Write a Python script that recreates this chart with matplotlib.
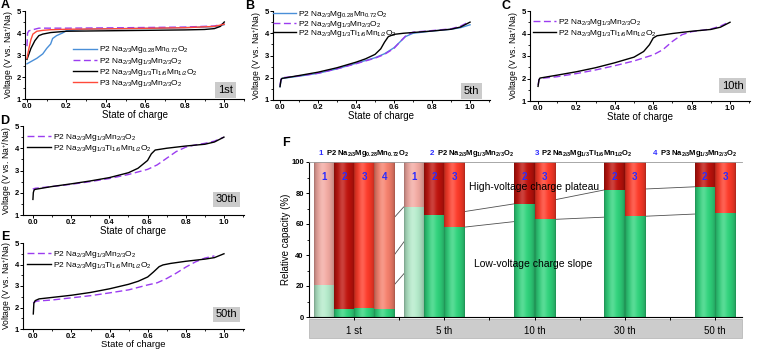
import numpy as np
import matplotlib
matplotlib.use('Agg')
import matplotlib.pyplot as plt
import matplotlib.colors as mcolors
from matplotlib.patches import Rectangle
from matplotlib.ticker import MultipleLocator

plt.rcParams['font.family'] = ['Liberation Sans', 'DejaVu Sans']
plt.rcParams['mathtext.default'] = 'regular'

W, H = 757, 350

lab_mg028 = r'P2 Na$_{2/3}$Mg$_{0.28}$Mn$_{0.72}$O$_2$'
lab_mg13 = r'P2 Na$_{2/3}$Mg$_{1/3}$Mn$_{2/3}$O$_2$'
lab_ti = r'P2 Na$_{2/3}$Mg$_{1/3}$Ti$_{1/6}$Mn$_{1/2}$O$_2$'
lab_p3 = r'P3 Na$_{2/3}$Mg$_{1/3}$Mn$_{2/3}$O$_2$'

# ---- charge curves (state of charge, voltage) ----
# 1st cycle
blue_1_x = [0, 0.02, 0.05, 0.08, 0.10, 0.12, 0.13, 0.15, 0.18, 0.2, 0.3, 0.5, 0.7, 0.9, 0.97, 1.0]
blue_1_y = [2.6, 2.7, 2.85, 3.05, 3.3, 3.5, 3.75, 3.88, 4.0, 4.1, 4.17, 4.2, 4.22, 4.27, 4.3, 4.38]
purple_1_x = [0, 0.003, 0.01, 0.03, 0.06, 0.2, 0.5, 0.8, 0.95, 1.0]
purple_1_y = [3.4, 4.0, 4.1, 4.15, 4.22, 4.22, 4.24, 4.27, 4.32, 4.42]
black_1_x = [0, 0.01, 0.02, 0.04, 0.06, 0.08, 0.12, 0.2, 0.4, 0.6, 0.8, 0.9, 0.95, 0.98, 1.0]
black_1_y = [2.8, 3.05, 3.3, 3.65, 3.88, 3.95, 4.02, 4.08, 4.1, 4.12, 4.14, 4.16, 4.2, 4.3, 4.5]
red_1_x = [0, 0.01, 0.02, 0.03, 0.05, 0.08, 0.12, 0.2, 0.5, 0.8, 0.95, 1.0]
red_1_y = [2.85, 3.3, 3.7, 3.95, 4.08, 4.12, 4.15, 4.17, 4.2, 4.24, 4.3, 4.4]

# 5th cycle
blue_5_x = [0, 0.005, 0.01, 0.1, 0.2, 0.3, 0.4, 0.5, 0.55, 0.6, 0.63, 0.66, 0.7, 0.8, 0.9, 0.95, 1.0]
blue_5_y = [1.6, 1.9, 1.97, 2.07, 2.2, 2.4, 2.65, 2.9, 3.08, 3.35, 3.6, 3.85, 4.0, 4.1, 4.18, 4.25, 4.38]
purple_5_x = [0, 0.005, 0.01, 0.1, 0.2, 0.3, 0.4, 0.5, 0.55, 0.6, 0.63, 0.66, 0.7, 0.8, 0.9, 0.95, 0.98]
purple_5_y = [1.65, 1.95, 2.0, 2.08, 2.2, 2.4, 2.63, 2.88, 3.05, 3.32, 3.6, 3.87, 4.05, 4.12, 4.2, 4.32, 4.45]
black_5_x = [0, 0.005, 0.01, 0.1, 0.2, 0.3, 0.4, 0.45, 0.5, 0.53, 0.55, 0.57, 0.6, 0.65, 0.8, 0.9, 0.95, 1.0]
black_5_y = [1.6, 1.9, 1.97, 2.1, 2.25, 2.45, 2.7, 2.85, 3.05, 3.3, 3.6, 3.85, 3.95, 4.0, 4.1, 4.18, 4.28, 4.5]

# 10th cycle
purple_10_x = [0, 0.005, 0.01, 0.1, 0.2, 0.3, 0.4, 0.5, 0.6, 0.65, 0.7, 0.75, 0.8, 0.9, 0.95, 0.98]
purple_10_y = [1.7, 1.95, 2.0, 2.08, 2.22, 2.38, 2.57, 2.78, 3.05, 3.28, 3.65, 3.95, 4.08, 4.2, 4.33, 4.45]
black_10_x = [0, 0.005, 0.01, 0.1, 0.2, 0.3, 0.4, 0.5, 0.55, 0.58, 0.6, 0.62, 0.7, 0.8, 0.9, 0.95, 1.0]
black_10_y = [1.65, 1.95, 2.02, 2.15, 2.3, 2.48, 2.7, 2.95, 3.2, 3.5, 3.8, 3.9, 4.0, 4.1, 4.18, 4.28, 4.5]

# 30th cycle
purple_30_x = [0, 0.005, 0.01, 0.1, 0.2, 0.3, 0.4, 0.5, 0.6, 0.65, 0.7, 0.75, 0.8, 0.85, 0.9, 0.95, 1.0]
purple_30_y = [2.2, 2.15, 2.2, 2.28, 2.38, 2.5, 2.64, 2.82, 3.05, 3.25, 3.55, 3.85, 4.05, 4.15, 4.22, 4.32, 4.5]
black_30_x = [0, 0.002, 0.005, 0.01, 0.1, 0.2, 0.3, 0.4, 0.5, 0.55, 0.6, 0.62, 0.64, 0.7, 0.8, 0.9, 0.95, 1.0]
black_30_y = [1.7, 2.0, 2.1, 2.15, 2.28, 2.4, 2.53, 2.68, 2.9, 3.1, 3.45, 3.75, 3.92, 4.0, 4.1, 4.18, 4.28, 4.5]

# 50th cycle
purple_50_x = [0, 0.005, 0.02, 0.1, 0.2, 0.3, 0.4, 0.5, 0.6, 0.65, 0.7, 0.75, 0.8, 0.85, 0.9, 0.95]
purple_50_y = [2.2, 2.25, 2.3, 2.35, 2.45, 2.55, 2.68, 2.82, 3.05, 3.15, 3.35, 3.6, 3.88, 4.12, 4.3, 4.4]
black_50_x = [0, 0.003, 0.01, 0.03, 0.1, 0.2, 0.3, 0.4, 0.5, 0.55, 0.6, 0.63, 0.66, 0.68, 0.72, 0.8, 0.9, 0.95, 1.0]
black_50_y = [1.7, 2.2, 2.32, 2.4, 2.47, 2.57, 2.7, 2.87, 3.08, 3.22, 3.42, 3.65, 3.9, 3.98, 4.05, 4.15, 4.25, 4.32, 4.5]

# ---- relative capacity of low-voltage slope (%) per cycle, per sample ----
cycles = ['1 st', '5 th', '10 th', '30 th', '50 th']
slope_s1 = [20.5, 71, np.nan, np.nan, np.nan]
slope_s2 = [5, 66, 73, 82, 84]
slope_s3 = [6, 58, 63, 65, 67]
slope_s4 = [5, np.nan, np.nan, np.nan, np.nan]
sample_names = [lab_mg028, lab_mg13, lab_ti, lab_p3]

c_blue = '#4a8fd8'
c_purple = '#9b3cf0'
c_red = '#ff4a3a'

fig = plt.figure(figsize=(W / 100, H / 100), dpi=100)


def px_axes(l, r, t, b):
    return fig.add_axes([l / W, 1 - b / H, (r - l) / W, (b - t) / H])


def style_volt(ax, xlim, xl_size=7, xl_pad=0):
    ax.set_xlim(*xlim)
    ax.set_ylim(1, 5)
    for s in ['top', 'right']:
        ax.spines[s].set_visible(False)
    for s in ['left', 'bottom']:
        ax.spines[s].set_linewidth(0.8)
    ax.xaxis.set_major_locator(MultipleLocator(0.2))
    ax.xaxis.set_minor_locator(MultipleLocator(0.1))
    ax.yaxis.set_major_locator(MultipleLocator(1))
    ax.yaxis.set_minor_locator(MultipleLocator(0.5))
    ax.tick_params(which='major', direction='out', length=2.2, width=0.7, pad=0.8, labelsize=5.5)
    ax.tick_params(which='minor', direction='out', length=1.3, width=0.6)
    for lab in ax.get_xticklabels() + ax.get_yticklabels():
        lab.set_fontweight('bold')
    ax.set_xlabel('State of charge', fontsize=xl_size, labelpad=xl_pad)
    ax.set_ylabel('Voltage (V vs. Na$^{+}$/Na)', fontsize=6.2, labelpad=0.5)


def tag(ax, txt, x, y):
    ax.text(x, y, txt, ha='right', va='center', fontsize=8,
            bbox=dict(boxstyle='square,pad=0.25', fc='#cbcbcb', ec='none'))


def legend(ax, handles, labels, x, y, sp):
    ax.legend(handles, labels, loc='upper left', bbox_to_anchor=(x, y), frameon=False,
              fontsize=6.0, handlelength=2.8, handletextpad=0.25, labelspacing=sp,
              borderpad=0, borderaxespad=0)


# panel A
axA = px_axes(25, 244, 11, 99)
lA1, = axA.plot(blue_1_x, blue_1_y, color=c_blue, lw=1.0)
lA2, = axA.plot(purple_1_x, purple_1_y, color=c_purple, lw=1.0, dashes=(5, 2.5))
lA3, = axA.plot(black_1_x, black_1_y, color='black', lw=1.0)
lA4, = axA.plot(red_1_x, red_1_y, color=c_red, lw=1.0)
style_volt(axA, (-0.01, 1.10))
legend(axA, [lA1, lA2, lA3, lA4], [lab_mg028, lab_mg13, lab_ti, lab_p3], 0.22, 0.62, 0.02)
tag(axA, '1st', 1.045, 1.4)

# panel B
axB = px_axes(273, 490, 11, 100)
lB1, = axB.plot(blue_5_x, blue_5_y, color=c_blue, lw=1.0)
lB2, = axB.plot(purple_5_x, purple_5_y, color=c_purple, lw=1.0, dashes=(5, 2.5))
lB3, = axB.plot(black_5_x, black_5_y, color='black', lw=1.0)
style_volt(axB, (-0.037, 1.105))
legend(axB, [lB1, lB2, lB3], [lab_mg028, lab_mg13, lab_ti], 0.0, 1.02, -0.18)
tag(axB, '5th', 1.05, 1.4)

# panel C
axC = px_axes(530, 750, 11, 101)
lC2, = axC.plot(purple_10_x, purple_10_y, color=c_purple, lw=1.0, dashes=(5, 2.5))
lC3, = axC.plot(black_10_x, black_10_y, color='black', lw=1.0)
style_volt(axC, (-0.042, 1.104))
legend(axC, [lC2, lC3], [lab_mg13, lab_ti], 0.014, 0.93, -0.05)
tag(axC, '10th', 1.07, 1.68)

# panel D
axD = px_axes(23, 244, 126, 215)
lD2, = axD.plot(purple_30_x, purple_30_y, color=c_purple, lw=1.0, dashes=(5, 2.5))
lD3, = axD.plot(black_30_x, black_30_y, color='black', lw=1.0)
style_volt(axD, (-0.052, 1.105))
legend(axD, [lD2, lD3], [lab_mg13, lab_ti], 0.02, 0.93, 0.02)
tag(axD, '30th', 1.07, 1.7)

# panel E
axE = px_axes(23, 244, 243, 329)
lE2, = axE.plot(purple_50_x, purple_50_y, color=c_purple, lw=1.0, dashes=(5, 2.5))
lE3, = axE.plot(black_50_x, black_50_y, color='black', lw=1.0)
style_volt(axE, (-0.054, 1.105), xl_size=6.8, xl_pad=0)
legend(axE, [lE2, lE3], [lab_mg13, lab_ti], 0.02, 0.93, 0.0)
tag(axE, '50th', 1.07, 1.68)

# panel F
axF = px_axes(309, 742, 162, 317)
w = 0.225
offsets = [(j - 1.5) * w for j in range(4)]
slopes = [slope_s1, slope_s2, slope_s3, slope_s4]
top_colors = ['#f4aaa2', '#c0120c', '#ff3a28', '#f7806c']
low_colors = ['#b5eccb', '#2fd47c', '#2fd47c', '#2fd47c']
x_grp = np.arange(len(cycles))


def cyl(base, n=48):
    t = np.linspace(0, 1, n)
    r = np.array(mcolors.to_rgb(base))
    body = 0.66 + 0.34 * np.sin(np.pi * t) ** 0.5
    img = r[None, :] * body[:, None]
    hl = 0.2 * np.exp(-((t - 0.4) / 0.17) ** 2)
    img = img * (1 - hl[:, None]) + hl[:, None]
    return np.clip(img[None, :, :], 0, 1)


for j in range(4):
    s = np.array(slopes[j], dtype=float)
    ok = ~np.isnan(s)
    xs = x_grp[ok] + offsets[j]
    lo = axF.bar(xs, s[ok], width=w, color=low_colors[j], zorder=2)
    hi = axF.bar(xs, 100 - s[ok], bottom=s[ok], width=w, color=top_colors[j], zorder=2)
    for b, c in [(bb, low_colors[j]) for bb in lo] + [(bb, top_colors[j]) for bb in hi]:
        x0, y0 = b.get_x(), b.get_y()
        axF.imshow(cyl(c), extent=[x0, x0 + b.get_width(), y0, y0 + b.get_height()],
                   aspect='auto', interpolation='bilinear', zorder=2.1)
    for xb in xs:
        axF.text(xb, 90, str(j + 1), ha='center', va='center', color='#2b2bff',
                 fontsize=7, fontweight='bold', zorder=4)
    # connecting lines between same sample in consecutive cycles
    idx = np.where(ok)[0]
    for a, b in zip(idx[:-1], idx[1:]):
        axF.plot([x_grp[a] + offsets[j] + w / 2, x_grp[b] + offsets[j] - w / 2],
                 [s[a], s[b]], color='#505050', lw=0.6, zorder=1)

axF.set_xlim(-0.5, 4.3)
axF.set_ylim(0, 100)
axF.spines['right'].set_visible(False)
axF.spines['top'].set_color('#9a9a9a')
axF.spines['top'].set_linewidth(0.6)
axF.spines['left'].set_linewidth(0.8)
axF.spines['bottom'].set_linewidth(0.8)
axF.set_xticks(x_grp)
axF.set_xticklabels(cycles, fontsize=7)
axF.set_xticks(x_grp[:-1] + 0.5, minor=True)
axF.yaxis.set_major_locator(MultipleLocator(20))
axF.yaxis.set_minor_locator(MultipleLocator(10))
axF.tick_params(axis='x', which='both', direction='out', length=2.5, width=0.7, pad=4)
axF.tick_params(axis='y', which='major', direction='out', length=2.5, width=0.7, pad=1.2, labelsize=5.5)
axF.tick_params(axis='y', which='minor', direction='out', length=1.5, width=0.6)
for lab in axF.get_yticklabels():
    lab.set_fontweight('bold')
axF.set_ylabel('Relative capacity (%)', fontsize=7, labelpad=0)
axF.add_patch(Rectangle((0, -0.135), 1, 0.122, transform=axF.transAxes, clip_on=False,
                        fc='#cccccc', ec='#b0b0b0', lw=0.5, zorder=0))
axF.text(2.0, 84, 'High-voltage charge plateau', ha='center', va='center', fontsize=7.5, zorder=5)
axF.text(1.98, 34, 'Low-voltage charge slope', ha='center', va='center', fontsize=7.5, zorder=5)

trF = axF.get_xaxis_transform()
head_x = [-0.39, 0.84, 2.0, 3.31]
for j in range(4):
    axF.text(head_x[j], 1.058, str(j + 1), transform=trF, color='#2b2bff',
             fontsize=5.8, fontweight='bold', ha='left', va='center')
    axF.annotate(sample_names[j], xy=(head_x[j], 1.058), xycoords=trF,
                 xytext=(5, 0), textcoords='offset points', fontsize=5.5, fontweight='bold',
                 ha='left', va='center')

# panel letters
for ch, x, y in [('A', 5, 5), ('B', 250, 6), ('C', 506, 6), ('D', 5, 121), ('E', 5, 237), ('F', 286, 143)]:
    fig.text(x / W, 1 - y / H, ch, fontsize=9, fontweight='bold', ha='center', va='center')

fig.savefig('out.png', dpi=100)
